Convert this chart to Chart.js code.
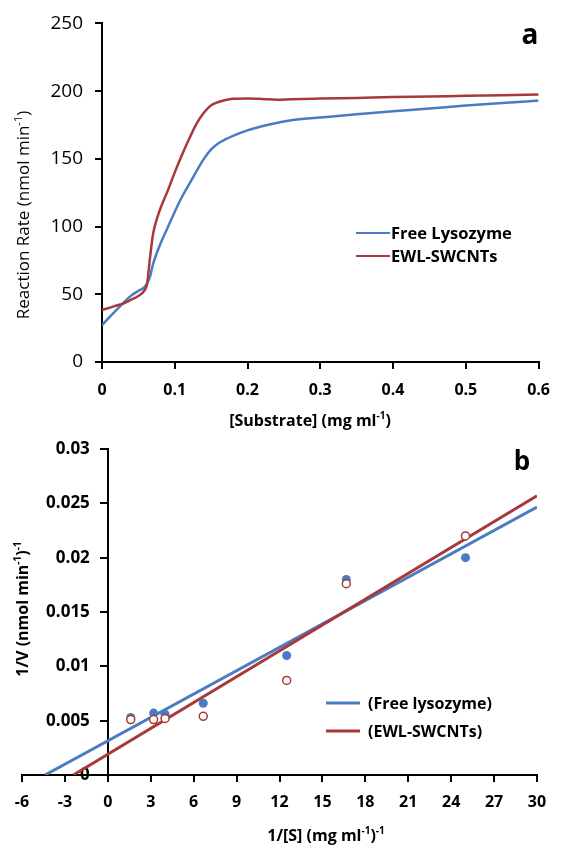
<!DOCTYPE html>
<html>
<head>
<meta charset="utf-8">
<script src="https://cdn.jsdelivr.net/npm/chart.js@4.4.0/dist/chart.umd.min.js"></script>
<style>
  html, body { margin: 0; padding: 0; background: #fff; }
  #wrap { position: relative; width: 562px; height: 847px; }
  canvas { position: absolute; left: 0; }
  #chartA { top: 0; }
  #chartB { top: 430px; }
</style>
</head>
<body>
<div id="wrap">
  <canvas id="chartA" width="562" height="430"></canvas>
  <canvas id="chartB" width="562" height="417"></canvas>
</div>
<script>
// panel a - reaction rate vs substrate concentration
const substrate = [0, 0.01, 0.02, 0.03, 0.04, 0.05, 0.058, 0.062, 0.066, 0.07, 0.075, 0.08, 0.09, 0.1, 0.11, 0.12, 0.13, 0.14, 0.15, 0.16, 0.17, 0.18, 0.2, 0.22, 0.24, 0.26, 0.3, 0.35, 0.4, 0.45, 0.5, 0.55, 0.6];
const rateFree = [27, 33, 38.5, 44, 49, 52.5, 55, 58, 63, 72, 80, 87, 99, 111, 122, 131.5, 141, 150, 157, 161.5, 164.5, 167, 171, 174, 176.5, 178.5, 180.5, 183, 185.2, 187.2, 189.3, 191.2, 193];
const rateEwl = [38.4, 40, 41.7, 43.3, 46, 48.8, 52.5, 58, 77, 94, 105, 113, 126, 140, 153, 165, 176, 184, 189.5, 192, 193.5, 194.3, 194.6, 194.2, 193.6, 194, 194.5, 195, 195.6, 196, 196.6, 197, 197.5];

// panel b - Lineweaver-Burk plot
const invS = [1.6, 3.2, 4.0, 6.67, 12.5, 16.67, 25];
const invVFree = [0.0053, 0.0057, 0.0056, 0.0066, 0.011, 0.018, 0.020];
const invVEwl = [0.0051, 0.0051, 0.0052, 0.0054, 0.0087, 0.0176, 0.0220];
const fitFreeX = [-4.39, 30];
const fitFreeY = [0, 0.02465];
const fitEwlX = [-2.41, 30];
const fitEwlY = [0, 0.0257];

const BLUE = '#4a7bc3';
const RED = '#a83939';
const FONT = 'Open Sans';
Chart.defaults.font.family = FONT;
Chart.defaults.color = '#000';

const pts = (xs, ys) => xs.map((x, i) => ({ x, y: ys[i] }));
const fmt = v => String(parseFloat(Number(v).toFixed(4)));

// text with superscript pieces, centred on (x, y)
function drawRich(ctx, parts, x, y, size, bold, rotate, align) {
  const w = bold ? 'bold ' : '';
  const big = w + size + 'px "' + FONT + '"';
  const small = w + Math.round(size * 0.62) + 'px "' + FONT + '"';
  let total = 0;
  for (const [t, sup] of parts) { ctx.font = sup ? small : big; total += ctx.measureText(t).width; }
  ctx.save();
  ctx.translate(x, y);
  if (rotate) ctx.rotate(rotate);
  ctx.fillStyle = '#000';
  ctx.textBaseline = 'alphabetic';
  let cx = align === 'left' ? 0 : -total / 2;
  const base = size * 0.36;
  for (const [t, sup] of parts) {
    ctx.font = sup ? small : big;
    ctx.fillText(t, cx, sup ? base - size * 0.42 : base);
    cx += ctx.measureText(t).width;
  }
  ctx.restore();
}

function legendPlugin(id, items, lineW) {
  return {
    id,
    afterDraw(chart) {
      const ctx = chart.ctx;
      for (const it of items) {
        ctx.save();
        ctx.strokeStyle = it.color;
        ctx.lineWidth = lineW;
        ctx.beginPath();
        ctx.moveTo(it.x1, it.y);
        ctx.lineTo(it.x2, it.y);
        ctx.stroke();
        ctx.restore();
        drawRich(ctx, [[it.text]], it.tx, it.y, it.size, true, 0, 'left');
      }
    }
  };
}

function textPlugin(id, texts) {
  return {
    id,
    afterDraw(chart) {
      for (const t of texts) drawRich(chart.ctx, t.parts, t.x, t.y, t.size, t.bold, t.rotate, 'center');
    }
  };
}

// y tick labels for an axis that crosses at x = 0
const crossLabels = {
  id: 'crossLabels',
  beforeDatasetsDraw(chart) {
    const ctx = chart.ctx;
    const xs = chart.scales.x, ys = chart.scales.y;
    const x0 = xs.getPixelForValue(0) - 7 - 11;
    ctx.save();
    ctx.font = 'bold 17px "' + FONT + '"';
    ctx.fillStyle = '#000';
    ctx.textAlign = 'right';
    ctx.textBaseline = 'middle';
    for (const t of ys.ticks) ctx.fillText(fmt(t.value), x0, ys.getPixelForValue(t.value));
    ctx.restore();
  }
};

const axisLine = { color: '#000', width: 2 };
const tickMarks = { drawOnChartArea: false, tickLength: 7, color: '#000', lineWidth: 2 };

new Chart(document.getElementById('chartA'), {
  type: 'line',
  data: {
    datasets: [
      { label: 'EWL-SWCNTs', data: pts(substrate, rateEwl), borderColor: RED, borderWidth: 2.5, pointRadius: 0, cubicInterpolationMode: 'monotone', order: 0 },
      { label: 'Free Lysozyme', data: pts(substrate, rateFree), borderColor: BLUE, borderWidth: 2.5, pointRadius: 0, cubicInterpolationMode: 'monotone', order: 1 }
    ]
  },
  options: {
    responsive: false,
    animation: false,
    layout: { padding: { top: 19, right: 15, left: 0, bottom: 0 } },
    plugins: { legend: { display: false }, tooltip: { enabled: false } },
    scales: {
      x: {
        type: 'linear', min: 0, max: 0.6,
        ticks: { stepSize: 0.1, padding: 12, font: { size: 16, weight: 'bold' }, callback: fmt },
        grid: tickMarks, border: axisLine,
        afterFit: s => { s.height = 68; }
      },
      y: {
        min: 0, max: 250,
        ticks: { stepSize: 50, padding: 12, font: { size: 19 }, callback: fmt },
        grid: tickMarks, border: axisLine,
        afterFit: s => { s.width = 102; }
      }
    }
  },
  plugins: [
    legendPlugin('legendA', [
      { color: BLUE, x1: 356, x2: 390, y: 233, tx: 391, text: 'Free Lysozyme', size: 16.5 },
      { color: RED, x1: 356, x2: 390, y: 256, tx: 391, text: 'EWL-SWCNTs', size: 16.5 }
    ], 2),
    textPlugin('textA', [
      { parts: [['a']], x: 530, y: 34, size: 28, bold: true },
      { parts: [['[Substrate] (mg ml'], ['-1', true], [')']], x: 310, y: 420, size: 16, bold: true },
      { parts: [['Reaction Rate (nmol min'], ['-1', true], [')']], x: 23, y: 215, size: 17, bold: false, rotate: -Math.PI / 2 }
    ])
  ]
});

new Chart(document.getElementById('chartB'), {
  type: 'scatter',
  data: {
    datasets: [
      { label: 'EWL-SWCNTs pts', data: pts(invS, invVEwl), pointRadius: 4, pointBorderWidth: 1.5, pointBorderColor: RED, pointBackgroundColor: '#fff', order: 0 },
      { label: 'Free pts', data: pts(invS, invVFree), pointRadius: 4.5, pointBorderWidth: 0, pointBackgroundColor: BLUE, pointBorderColor: BLUE, order: 1 },
      { label: '(EWL-SWCNTs)', data: pts(fitEwlX, fitEwlY), showLine: true, borderColor: RED, borderWidth: 3, pointRadius: 0, order: 2 },
      { label: '(Free lysozyme)', data: pts(fitFreeX, fitFreeY), showLine: true, borderColor: BLUE, borderWidth: 3, pointRadius: 0, order: 3 }
    ]
  },
  options: {
    responsive: false,
    animation: false,
    layout: { padding: { top: 19, right: 25, left: 22, bottom: 0 } },
    plugins: { legend: { display: false }, tooltip: { enabled: false } },
    scales: {
      x: {
        type: 'linear', min: -6, max: 30, position: 'bottom',
        ticks: { stepSize: 3, padding: 11, font: { size: 16, weight: 'bold' }, callback: fmt },
        grid: tickMarks, border: axisLine,
        afterFit: s => { s.height = 72; }
      },
      y: {
        min: 0, max: 0.03, position: { x: 0 },
        ticks: { stepSize: 0.005, display: false },
        grid: tickMarks, border: axisLine
      }
    }
  },
  plugins: [
    crossLabels,
    legendPlugin('legendB', [
      { color: BLUE, x1: 326, x2: 360, y: 273, tx: 368, text: '(Free lysozyme)', size: 16 },
      { color: RED, x1: 326, x2: 360, y: 301, tx: 368, text: '(EWL-SWCNTs)', size: 16 }
    ], 3),
    textPlugin('textB', [
      { parts: [['b']], x: 522, y: 31, size: 26, bold: true },
      { parts: [['1/[S] (mg ml'], ['-1', true], [')'], ['-1', true]], x: 326, y: 405, size: 16, bold: true },
      { parts: [['1/V (nmol min'], ['-1', true], [')'], ['-1', true]], x: 22, y: 179, size: 16, bold: true, rotate: -Math.PI / 2 }
    ])
  ]
});
</script>
</body>
</html>
